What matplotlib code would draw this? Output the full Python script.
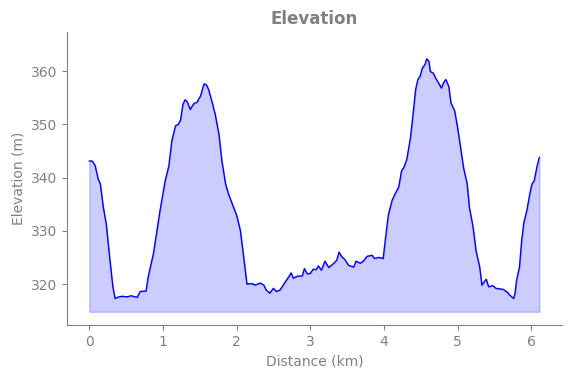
import numpy as np
import matplotlib
matplotlib.use('Agg')
import matplotlib.pyplot as plt

# distance along the track (km) and elevation (m)
dist = [0.00, 0.04, 0.08, 0.12, 0.15, 0.19, 0.23, 0.28, 0.32, 0.35,
        0.40, 0.45, 0.51, 0.57, 0.65, 0.69, 0.77, 0.80, 0.87, 0.96,
        1.03, 1.08, 1.12, 1.17, 1.21, 1.24, 1.27, 1.30, 1.33, 1.37,
        1.42, 1.46, 1.51, 1.54, 1.56, 1.59, 1.62, 1.67, 1.71, 1.76,
        1.80, 1.85, 1.89, 1.94, 2.00, 2.05, 2.09, 2.14, 2.21, 2.25,
        2.32, 2.37, 2.40, 2.45, 2.50, 2.54, 2.59, 2.66, 2.71, 2.74,
        2.77, 2.83, 2.89, 2.92, 2.96, 3.00, 3.04, 3.08, 3.11, 3.15,
        3.20, 3.25, 3.32, 3.36, 3.39, 3.43, 3.47, 3.52, 3.59, 3.62,
        3.68, 3.72, 3.77, 3.84, 3.87, 3.93, 3.99, 4.02, 4.06, 4.11,
        4.15, 4.20, 4.24, 4.27, 4.31, 4.36, 4.40, 4.43, 4.46, 4.49,
        4.52, 4.56, 4.58, 4.61, 4.63, 4.67, 4.70, 4.74, 4.78, 4.81,
        4.84, 4.88, 4.91, 4.96, 5.00, 5.04, 5.08, 5.13, 5.16, 5.21,
        5.25, 5.30, 5.33, 5.36, 5.39, 5.42, 5.48, 5.52, 5.62, 5.68,
        5.71, 5.76, 5.78, 5.80, 5.84, 5.87, 5.90, 5.94, 5.98, 6.01,
        6.04, 6.08, 6.11]
elev = [343.1, 343.1, 342.2, 339.7, 338.8, 334.4, 331.3, 324.5, 319.5, 317.3,
        317.6, 317.7, 317.6, 317.8, 317.5, 318.6, 318.7, 321.4, 325.7, 333.8,
        339.4, 342.2, 346.9, 349.7, 350.0, 350.9, 353.7, 354.6, 354.2, 352.8,
        353.9, 354.1, 355.3, 356.8, 357.6, 357.4, 356.5, 354.0, 351.8, 348.1,
        343.1, 338.8, 336.9, 335.1, 332.9, 330.1, 325.7, 320.0, 320.1, 319.8,
        320.2, 319.8, 318.9, 318.3, 319.2, 318.6, 318.9, 320.4, 321.4, 322.1,
        321.1, 321.5, 321.5, 322.9, 321.9, 322.0, 322.8, 322.7, 323.4, 322.6,
        324.3, 323.1, 323.9, 324.5, 326.0, 325.1, 324.6, 323.5, 323.2, 324.3,
        323.9, 324.3, 325.2, 325.4, 324.8, 325.0, 324.8, 328.5, 333.0, 335.7,
        336.9, 338.2, 341.3, 341.9, 343.4, 347.5, 352.5, 356.5, 358.4, 359.0,
        360.5, 361.3, 362.3, 361.8, 359.9, 359.6, 358.7, 357.8, 356.8, 357.8,
        358.4, 357.1, 354.0, 352.5, 349.4, 345.6, 341.9, 338.8, 334.4, 330.7,
        326.3, 323.2, 319.8, 320.4, 320.9, 319.5, 319.7, 319.2, 319.0, 318.4,
        317.9, 317.3, 318.3, 320.7, 323.2, 328.2, 331.6, 333.8, 336.9, 338.8,
        339.4, 342.2, 343.8]

dist = np.array(dist)
elev = np.array(elev)

fig = plt.figure(figsize=(5.71, 3.78), dpi=100)
ax = fig.add_axes([0.117, 0.14, 0.867, 0.775])

base = elev.min() - 2.5
ax.plot(dist, elev, color='blue', linewidth=1)
ax.fill_between(dist, elev, base, color='blue', alpha=0.2)
ax.set_ylim(elev.min() - 5, elev.max() + 5)

ax.set_title('Elevation', color='gray', fontweight='bold', fontsize=12)
ax.set_xlabel('Distance (km)', color='gray')
ax.set_ylabel('Elevation (m)', color='gray')
ax.tick_params(colors='gray')
for s in ['top', 'right']:
    ax.spines[s].set_visible(False)
for s in ['left', 'bottom']:
    ax.spines[s].set_color('gray')

plt.savefig('out.png', dpi=100)
